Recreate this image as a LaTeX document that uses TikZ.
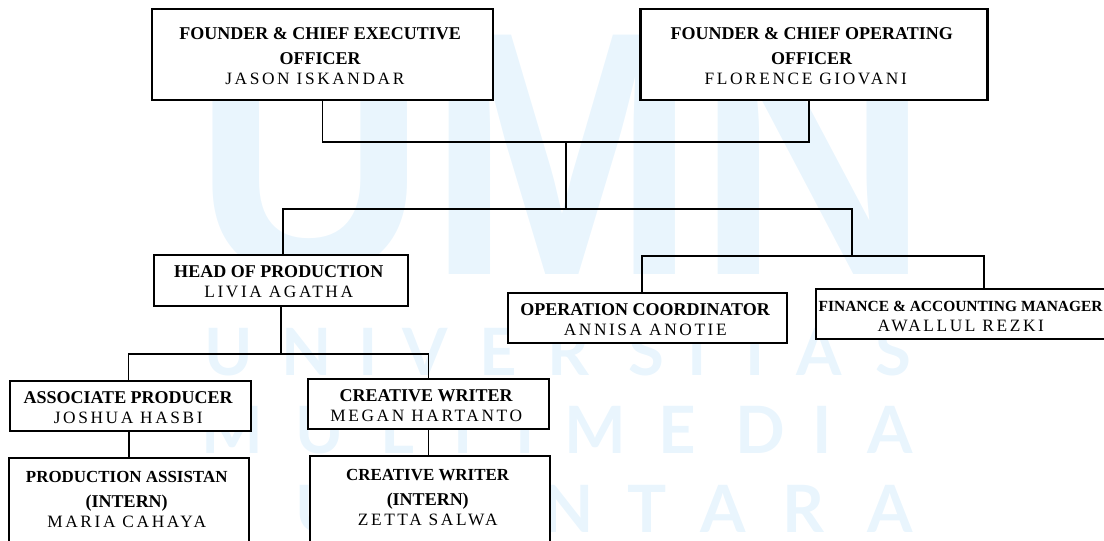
\documentclass[tikz,border=0pt]{standalone}
\usepackage{fontspec}
\setmainfont{Liberation Serif}
\newfontfamily\markfont{Liberation Sans}
\newfontfamily\softfont{Lato}
\newfontfamily\namefont[LetterSpace=15]{Liberation Serif}
\definecolor{markblue}{HTML}{E9F5FD}
\setlength{\tabcolsep}{0pt}
\newcommand{\rolename}[1]{\textbf{#1}}
\newcommand{\smallrole}[1]{{\fontsize{12.7}{15}\selectfont\textbf{#1}}}
\newcommand{\personname}[1]{{\fontsize{13}{15}\namefont #1}}
\tikzset{
    orgbox/.style={draw, fill=white, line width=1.9pt, outer sep=0pt, inner xsep=0pt, align=center, font=\fontsize{13.5}{15}\selectfont},
    link/.style={draw, line width=1.4pt},
    bigmark/.style={text=markblue, inner sep=0pt, font=\fontsize{261}{261}\markfont\bfseries},
    softmark/.style={text=markblue, inner sep=0pt, anchor=base, font=\fontsize{49}{49}\softfont\bfseries}
}
\begin{document}
\begin{tikzpicture}[x=0.75pt, y=-0.75pt]
        \useasboundingbox (0,0) rectangle (1104,540);
        % Watermark
        \node[bigmark, xscale=0.93, anchor=base] (umn) at (562,274) {UMN};
        \foreach \px/\ch in {229/U,307/N,368/I,425/V,498/E,569/R,646/S,697/I,755/T,819/A,893/S}
            \node[softmark] (first\px) at (\px,375) {\ch};
        \foreach \px/\ch in {232/M,320/U,397/L,463/T,525/I,595/M,677/E,760/D,822/I,890/A}
            \node[softmark] (second\px) at (\px,453) {\ch};
        \foreach \px/\ch in {320/U,569/N,647/T,723/A,803/R,890/A}
            \node[softmark] (third\px) at (\px,532) {\ch};

        % Blocks
        \node[orgbox, minimum width=255.75pt, minimum height=68.25pt] (ceo) at (322.5,54.5) {
            \begin{tabular}{c}
                \rolename{FOUNDER \& CHIEF EXECUTIVE} \\[3.5pt]
                \rolename{OFFICER} \\
                \personname{JASON ISKANDAR}\hspace{8pt} \\[-5pt]
            \end{tabular}
        };
        \node[orgbox, minimum width=260pt, minimum height=68.25pt] (coo) at (814,54.5) {
            \begin{tabular}{c}
                \rolename{FOUNDER \& CHIEF OPERATING} \\[3.5pt]
                \rolename{OFFICER} \\
                \personname{FLORENCE GIOVANI}\hspace{9pt} \\[-5pt]
            \end{tabular}
        };
        \node[orgbox, minimum width=190.5pt, minimum height=38.25pt] (head) at (281,280.5) {
            \begin{tabular}{c}
                \rolename{HEAD OF PRODUCTION} \\
                \personname{LIVIA AGATHA} \\[-5pt]
            \end{tabular}
        };
        \node[orgbox, minimum width=209.25pt, minimum height=37.5pt] (operation) at (647.5,318) {
            \begin{tabular}{c}
                \rolename{OPERATION COORDINATOR} \\
                \personname{ANNISA ANOTIE} \\[-5pt]
            \end{tabular}
        };
        \node[orgbox, minimum width=220.5pt, minimum height=37.5pt] (finance) at (963,314) {
            \begin{tabular}{c}
                {\fontsize{11.6}{15}\selectfont\rolename{FINANCE \& ACCOUNTING MANAGER}} \\
                \personname{AWALLUL REZKI} \\[-5pt]
            \end{tabular}
        };
        \node[orgbox, minimum width=180.75pt, minimum height=37.5pt] (associate) at (130.5,406) {
            \begin{tabular}{c}
                \rolename{ASSOCIATE PRODUCER} \\
                \personname{JOSHUA HASBI} \\[-5pt]
            \end{tabular}
        };
        \node[orgbox, minimum width=180.75pt, minimum height=37.5pt] (writer) at (428.5,404) {
            \begin{tabular}{c}
                \rolename{CREATIVE WRITER} \\
                \personname{MEGAN HARTANTO} \\[-5pt]
            \end{tabular}
        };
        \node[orgbox, minimum width=180pt, minimum height=67.5pt] (assistant) at (129,503) {
            \begin{tabular}{c}
                \smallrole{PRODUCTION ASSISTAN} \\[3.5pt]
                \rolename{(INTERN)} \\
                \personname{MARIA CAHAYA} \\[3pt]
            \end{tabular}
        };
        \node[orgbox, minimum width=180pt, minimum height=67.5pt] (intern) at (430,501) {
            \begin{tabular}{c}
                \smallrole{CREATIVE WRITER} \\[3.5pt]
                \rolename{(INTERN)} \\
                \personname{ZETTA SALWA} \\[3pt]
            \end{tabular}
        };

        % Joints
        \coordinate (topbus) at (566,142);
        \coordinate (midbus) at (566,209);
        \coordinate (rightbus) at (852,256);
        \coordinate (prodbus) at (281,354);

        % Lines
        \draw[link] (ceo.south) |- (topbus) -| ([xshift=-3.75pt]coo.south);
        \draw[link] (topbus) -- (midbus);
        \draw[link] ([xshift=1.5pt]head.north) |- (midbus) -| (rightbus);
        \draw[link] ([xshift=-4pt]operation.north) |- (rightbus) -| ([xshift=15.75pt]finance.north);
        \draw[link] (head.south) -- (prodbus);
        \draw[link] ([xshift=-1.5pt]associate.north) |- (prodbus) -| (writer.north);
        \draw[link] (assistant.north |- associate.south) -- (assistant.north);
        \draw[link] (writer.south) -- (writer.south |- intern.north);

    \end{tikzpicture}
\end{document}
